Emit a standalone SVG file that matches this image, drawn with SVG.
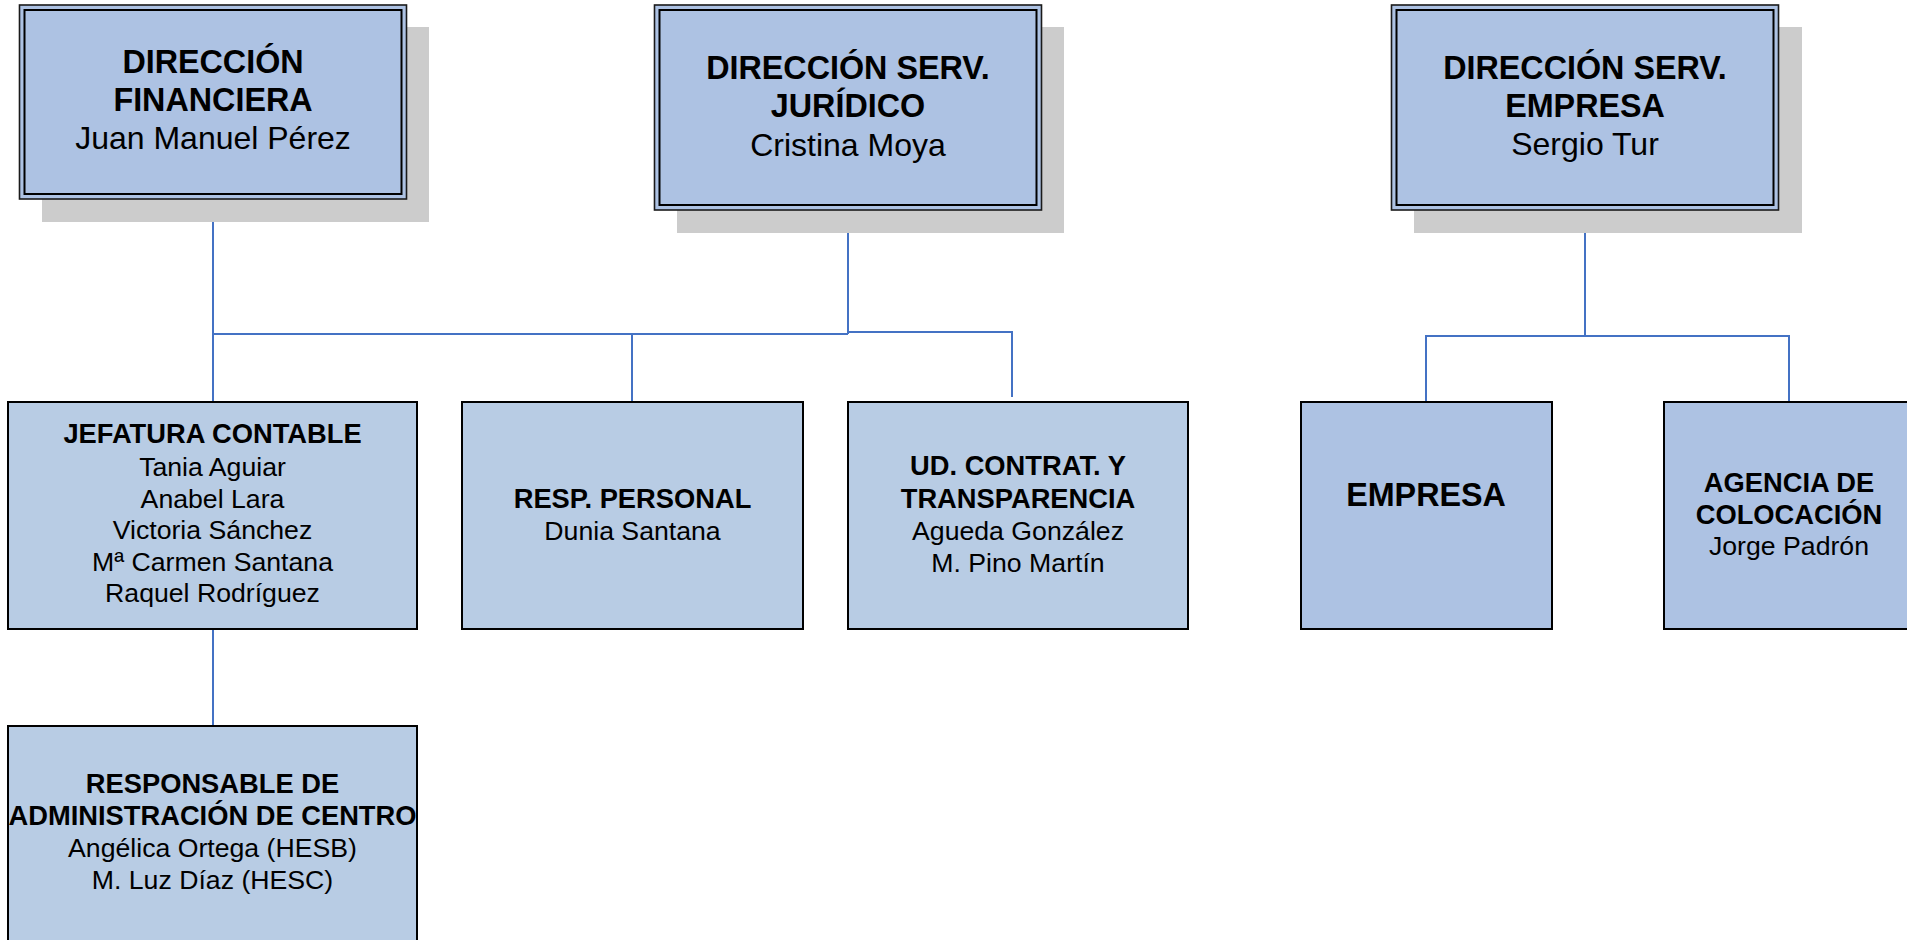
<svg xmlns="http://www.w3.org/2000/svg" width="1907" height="940" viewBox="0 0 1907 940">
<style>
text{font-family:"Liberation Sans",Arial,sans-serif;fill:#000;text-anchor:middle}
.t{font-size:32px}
.s{font-size:26.67px}
.b{font-weight:bold}
.t.b{font-size:32.3px}
.s.b{font-size:27.3px}
.shadow{fill:#CCCCCC}
.topOuter{fill:#ADC2E3;stroke:#1a1a1a;stroke-width:1.6}
.topInner{fill:none;stroke:#000;stroke-width:2}
.box{fill:#B8CCE4;stroke:#000;stroke-width:2}
.box2{fill:#ADC2E3;stroke:#000;stroke-width:2}
.conn{fill:none;stroke:#4472C4;stroke-width:2}
</style>
<rect width="1907" height="940" fill="#fff"/>
<g id="connectors">
<path class="conn" d="M213,199V402"/>
<path class="conn" d="M213,334H848"/>
<path class="conn" d="M848,210V334"/>
<path class="conn" d="M632,334V402"/>
<path class="conn" d="M848,332H1012V397"/>
<path class="conn" d="M213,629V726"/>
<path class="conn" d="M1585,210V336"/>
<path class="conn" d="M1426,402V336H1789V402"/>
</g>
<g id="dir-financiera">
<rect class="shadow" x="42" y="27" width="387" height="195"/>
<rect class="topOuter" x="19.5" y="5" width="387" height="194"/>
<rect class="topInner" x="24.5" y="10" width="377" height="184"/>
<text class="t b" x="213" y="73">DIRECCIÓN</text>
<text class="t b" x="213" y="111">FINANCIERA</text>
<text class="t" x="213" y="149">Juan Manuel Pérez</text>
</g>
<g id="dir-juridico">
<rect class="shadow" x="677" y="27" width="387" height="206"/>
<rect class="topOuter" x="654.5" y="5" width="387" height="205"/>
<rect class="topInner" x="659.5" y="10" width="377" height="195"/>
<text class="t b" x="848" y="79">DIRECCIÓN SERV.</text>
<text class="t b" x="848" y="117">JURÍDICO</text>
<text class="t" x="848" y="156">Cristina Moya</text>
</g>
<g id="dir-empresa">
<rect class="shadow" x="1414" y="27" width="388" height="206"/>
<rect class="topOuter" x="1391.5" y="5" width="387" height="205"/>
<rect class="topInner" x="1396.5" y="10" width="377" height="195"/>
<text class="t b" x="1585" y="79">DIRECCIÓN SERV.</text>
<text class="t b" x="1585" y="117">EMPRESA</text>
<text class="t" x="1585" y="155">Sergio Tur</text>
</g>
<g id="jefatura-contable">
<rect class="box" x="8" y="402" width="409" height="227"/>
<text class="s b" x="212.5" y="443">JEFATURA CONTABLE</text>
<text class="s" x="212.5" y="476">Tania Aguiar</text>
<text class="s" x="212.5" y="507.5">Anabel Lara</text>
<text class="s" x="212.5" y="539">Victoria Sánchez</text>
<text class="s" x="212.5" y="570.5">Mª Carmen Santana</text>
<text class="s" x="212.5" y="602">Raquel Rodríguez</text>
</g>
<g id="resp-personal">
<rect class="box" x="462" y="402" width="341" height="227"/>
<text class="s b" x="632.5" y="508">RESP. PERSONAL</text>
<text class="s" x="632.5" y="540">Dunia Santana</text>
</g>
<g id="ud-contrat">
<rect class="box" x="848" y="402" width="340" height="227"/>
<text class="s b" x="1018" y="475">UD. CONTRAT. Y</text>
<text class="s b" x="1018" y="507.5">TRANSPARENCIA</text>
<text class="s" x="1018" y="539.5">Agueda González</text>
<text class="s" x="1018" y="571.5">M. Pino Martín</text>
</g>
<g id="empresa">
<rect class="box2" x="1301" y="402" width="251" height="227"/>
<text class="t b" x="1426" y="506">EMPRESA</text>
</g>
<g id="agencia-colocacion">
<rect class="box2" x="1664" y="402" width="251" height="227"/>
<text class="s b" x="1789" y="492">AGENCIA DE</text>
<text class="s b" x="1789" y="523.5">COLOCACIÓN</text>
<text class="s" x="1789" y="555">Jorge Padrón</text>
</g>
<g id="responsable-admin">
<rect class="box" x="8" y="726" width="409" height="228"/>
<text class="s b" x="212.5" y="792.5">RESPONSABLE DE</text>
<text class="s b" x="212.5" y="824.5">ADMINISTRACIÓN DE CENTRO</text>
<text class="s" x="212.5" y="856.5">Angélica Ortega (HESB)</text>
<text class="s" x="212.5" y="888.5">M. Luz Díaz (HESC)</text>
</g>
</svg>
